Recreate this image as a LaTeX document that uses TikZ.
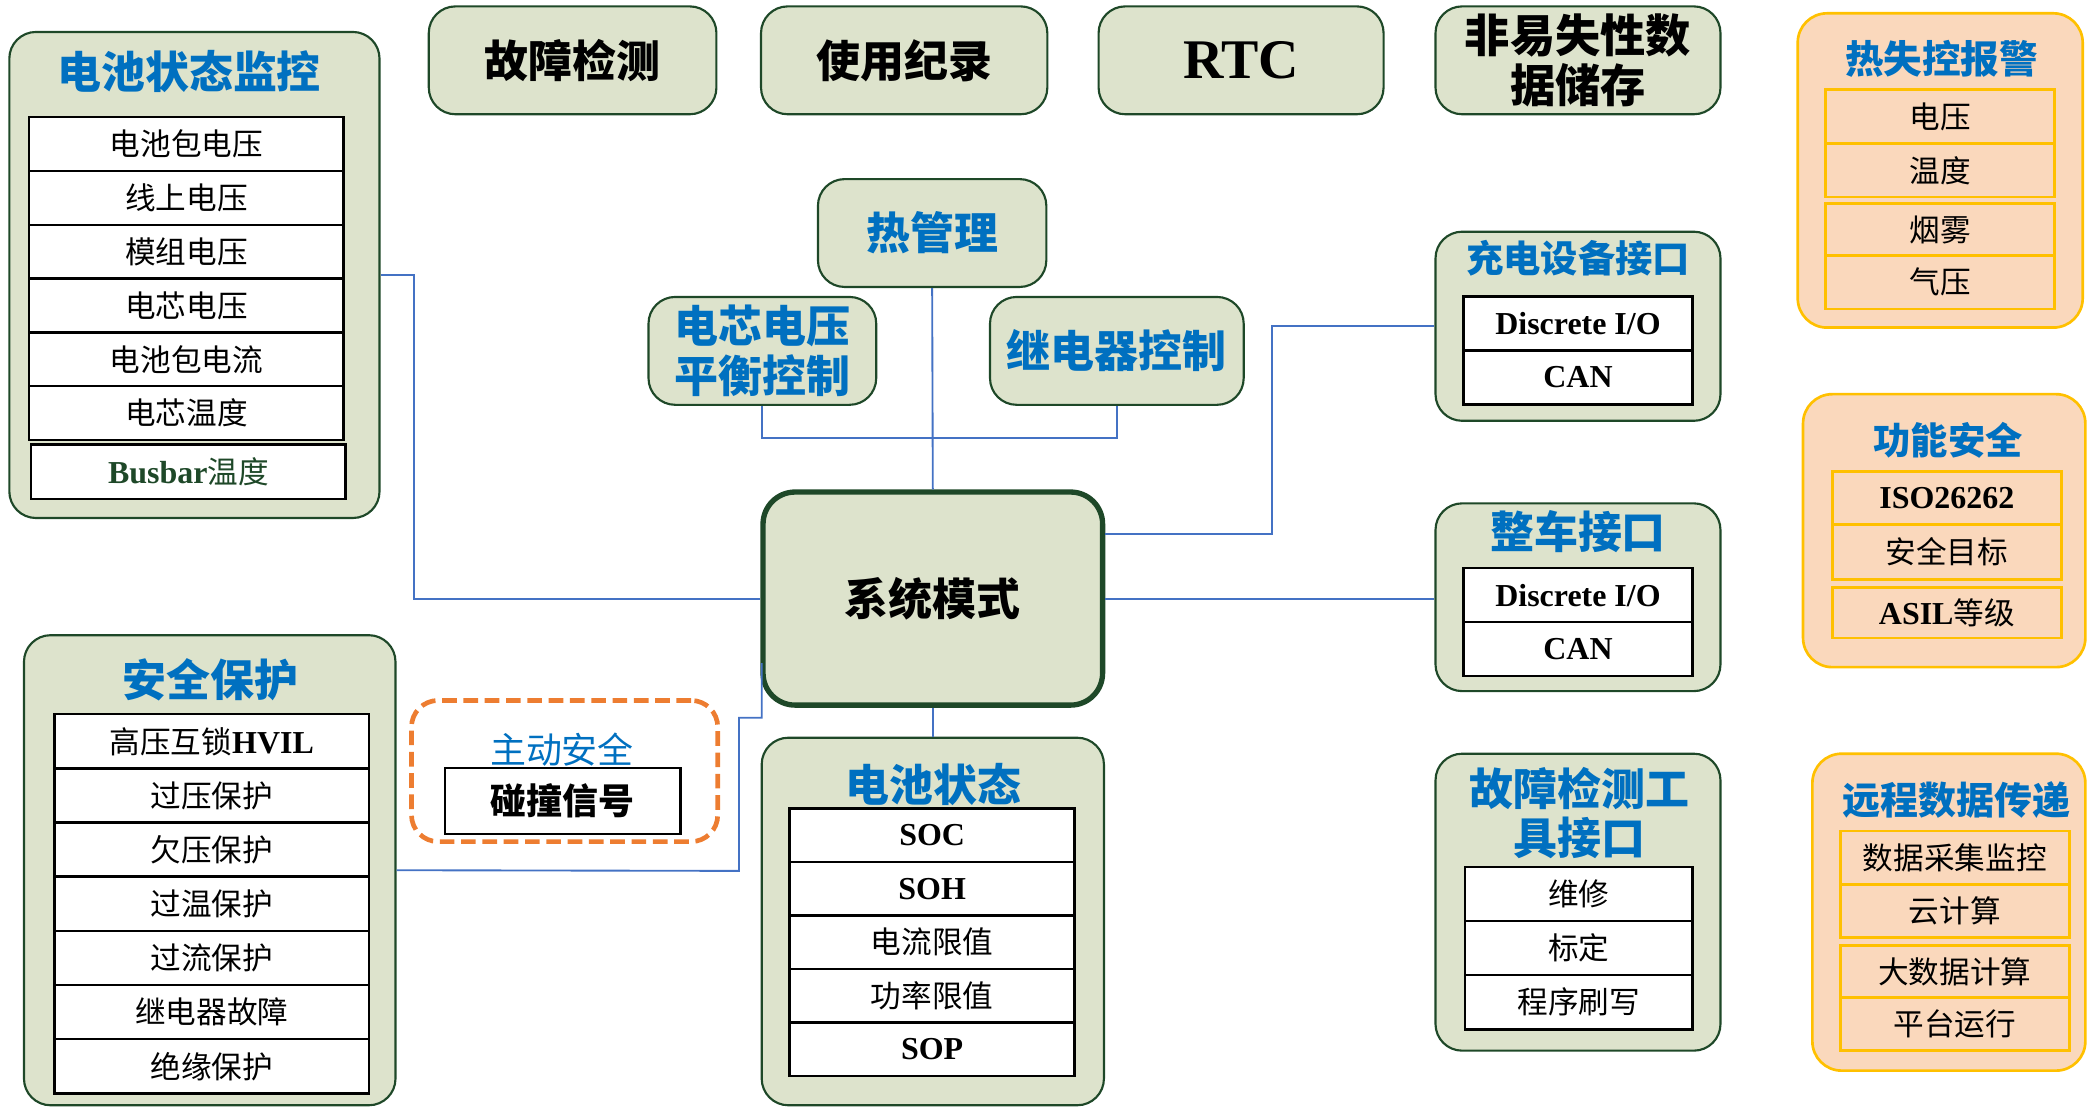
\documentclass[tikz,border=0pt]{standalone}
\usepackage{fontspec}
\setmainfont{Noto Sans CJK SC}
\newfontfamily\tnr{Liberation Serif}
\usetikzlibrary{calc}
\definecolor{grfill}{RGB}{221,227,204}
\definecolor{dkgreen}{RGB}{30,72,40}
\definecolor{orfill}{RGB}{250,216,188}
\definecolor{gold}{RGB}{255,192,0}
\definecolor{tblue}{RGB}{0,112,192}
\definecolor{cblue}{RGB}{68,114,196}
\definecolor{dorange}{RGB}{237,125,49}
\newcommand\ttlf[1]{\fontsize{#1}{#1}\selectfont\bfseries}
\newcommand\rowf{\fontsize{23}{26}\selectfont}
\newcommand\lt[1]{{\tnr\bfseries\fontsize{24}{26}\selectfont #1}}
\begin{document}
\begin{tikzpicture}[x=1pt,y=-1pt,
  sz/.style 2 args={minimum width=#1pt, minimum height=#2pt},
  grp/.style={draw=dkgreen, fill=grfill, line width=1.6pt, rounded corners=20pt, inner sep=0pt},
  ogrp/.style={draw=gold, fill=orfill, line width=2pt, rounded corners=22pt, inner sep=0pt},
  rowbox/.style={draw=black, fill=white, line width=1.8pt, inner sep=0pt, font=\rowf},
  orow/.style={draw=gold, fill=orfill, line width=2pt, inner sep=0pt, font=\rowf},
  ttl/.style={text=tblue, inner sep=0pt, align=center, font=\ttlf{33}},
  btxt/.style={text=black, inner sep=0pt, align=center, font=\ttlf{33}},
  conn/.style={draw=cblue, line width=1.4pt},
]
\useasboundingbox (0,0) rectangle (1568,834);

% ---------- battery monitoring ----------
\node[grp, sz={278}{365}] (bm) at (146,206.5) {};
\node[ttl] (bmt) at (142,54) {电池状态监控};
\node[rowbox, sz={236}{40.4}] (bm1) at (140,108.2) {电池包电压};
\node[rowbox, sz={236}{40.4}] (bm2) at (140,148.6) {线上电压};
\node[rowbox, sz={236}{40.4}] (bm3) at (140,189) {模组电压};
\node[rowbox, sz={236}{40.4}] (bm4) at (140,229.4) {电芯电压};
\node[rowbox, sz={236}{40.4}] (bm5) at (140,269.8) {电池包电流};
\node[rowbox, sz={236}{40.4}] (bm6) at (140,310.2) {电芯温度};
\node[rowbox, sz={236}{41}, text=dkgreen] (bm7) at (141.5,354.2) {\lt{Busbar}温度};

% ---------- safety protection ----------
\node[grp, sz={279}{353}] (sp) at (157.5,653.5) {};
\node[ttl] (spt) at (158,510.7) {安全保护};
\node[rowbox, sz={236}{40.7}] (sp1) at (159,556.7) {高压互锁\lt{HVIL}};
\node[rowbox, sz={236}{40.7}] (sp2) at (159,597.4) {过压保护};
\node[rowbox, sz={236}{40.7}] (sp3) at (159,638) {欠压保护};
\node[rowbox, sz={236}{40.7}] (sp4) at (159,678.7) {过温保护};
\node[rowbox, sz={236}{40.7}] (sp5) at (159,719.4) {过流保护};
\node[rowbox, sz={236}{40.7}] (sp6) at (159,760) {继电器故障};
\node[rowbox, sz={236}{40.7}] (sp7) at (159,800.7) {绝缘保护};

% ---------- active safety ----------
\node[draw=dorange, line width=3.5pt, dash pattern=on 11pt off 5pt, rounded corners=20pt, sz={230}{106}, inner sep=0pt] (as) at (424,579) {};
\node[text=tblue, inner sep=0pt, font=\fontsize{27}{27}\selectfont] (ast) at (422,563) {主动安全};
\node[draw=black, fill=white, line width=1.6pt, inner sep=0pt, sz={177}{49}, font=\fontsize{27}{27}\selectfont\bfseries] (as1) at (422.5,601.5) {碰撞信号};

% ---------- top row ----------
\node[grp, sz={216}{81}, btxt] (f1) at (430,45.3) {故障检测};
\node[grp, sz={215}{81}, btxt] (f2) at (679,45.3) {使用纪录};
\node[grp, sz={214}{81}, btxt, font=\tnr\bfseries\fontsize{42}{42}\selectfont] (f3) at (932,45.3) {RTC};
\node[grp, sz={214}{81}, btxt, font=\ttlf{34}, execute at begin node=\setlength{\baselineskip}{38pt}] (f4) at (1185,45.3) {非易失性数\\据储存};

% ---------- control boxes ----------
\node[grp, sz={171.5}{81}, ttl] (th) at (700,175) {热管理};
\node[grp, sz={171}{81}, ttl, execute at begin node=\setlength{\baselineskip}{37pt}] (cb) at (572.5,263.5) {电芯电压\\平衡控制};
\node[grp, sz={190.5}{81}, ttl] (rc) at (838.7,263.5) {继电器控制};

% ---------- system mode ----------
\node[draw=dkgreen, fill=grfill, line width=4pt, rounded corners=24pt, sz={255}{160}, btxt] (sys) at (700.5,449.5) {系统模式};

% ---------- battery state ----------
\node[grp, sz={257}{276}] (bs) at (700.5,692) {};
\node[ttl] (bst) at (701,589) {电池状态};
\node[rowbox, sz={214}{40.2}] (bs1) at (700,627.1) {\lt{SOC}};
\node[rowbox, sz={214}{40.2}] (bs2) at (700,667.3) {\lt{SOH}};
\node[rowbox, sz={214}{40.2}] (bs3) at (700,707.5) {电流限值};
\node[rowbox, sz={214}{40.2}] (bs4) at (700,747.7) {功率限值};
\node[rowbox, sz={214}{40.2}] (bs5) at (700,787.9) {\lt{SOP}};

% ---------- charging interface ----------
\node[grp, sz={214}{142}] (ch) at (1185,245) {};
\node[ttl, font=\ttlf{28}] (cht) at (1185,194) {充电设备接口};
\node[rowbox, sz={172}{40.5}] (ch1) at (1185,243) {\lt{Discrete I/O}};
\node[rowbox, sz={172}{40.5}] (ch2) at (1185,283.5) {\lt{CAN}};

% ---------- vehicle interface ----------
\node[grp, sz={214}{141}] (vh) at (1185,448.5) {};
\node[ttl] (vht) at (1185,399) {整车接口};
\node[rowbox, sz={172}{40.5}] (vh1) at (1185,447) {\lt{Discrete I/O}};
\node[rowbox, sz={172}{40.5}] (vh2) at (1185,487.5) {\lt{CAN}};

% ---------- diagnostic tool interface ----------
\node[grp, sz={214}{223}] (fd) at (1185,677.5) {};
\node[ttl, execute at begin node=\setlength{\baselineskip}{37pt}] (fdt) at (1186,610.5) {故障检测工\\具接口};
\node[rowbox, sz={171}{40.7}] (fd1) at (1185.5,671.3) {维修};
\node[rowbox, sz={171}{40.7}] (fd2) at (1185.5,712) {标定};
\node[rowbox, sz={171}{40.7}] (fd3) at (1185.5,752.7) {程序刷写};

% ---------- thermal runaway alarm ----------
\node[ogrp, sz={214}{236}] (ta) at (1457,128) {};
\node[ttl, font=\ttlf{29}] (tat) at (1458,44) {热失控报警};
\node[orow, sz={172}{41}] (ta1) at (1457,87.5) {电压};
\node[orow, sz={172}{40}] (ta2) at (1457,128) {温度};
\node[orow, sz={172}{39}] (ta3) at (1457,172.5) {烟雾};
\node[orow, sz={172}{40}] (ta4) at (1457,212) {气压};

% ---------- functional safety ----------
\node[ogrp, sz={212}{205}] (fs) at (1460,398.5) {};
\node[ttl, font=\ttlf{28}] (fst) at (1463,331) {功能安全};
\node[orow, sz={172}{40}] (fs1) at (1462,374) {\lt{ISO26262}};
\node[orow, sz={172}{41}] (fs2) at (1462,414.5) {安全目标};
\node[orow, sz={172}{38}] (fs3) at (1462,460) {\lt{ASIL}等级};

% ---------- remote data ----------
\node[ogrp, sz={205}{238}] (rd) at (1463.5,685) {};
\node[ttl, font=\ttlf{28.5}] (rdt) at (1469,601) {远程数据传递};
\node[orow, sz={172}{40}] (rd1) at (1468,644) {数据采集监控};
\node[orow, sz={172}{40}] (rd2) at (1468,684) {云计算};
\node[orow, sz={172}{39}] (rd3) at (1468,729.5) {大数据计算};
\node[orow, sz={172}{40}] (rd4) at (1468,769) {平台运行};

% ---------- connectors ----------
\coordinate (k1) at (955.5,401);
\coordinate (k2) at (555,654);
\coordinate (k3) at (572,539);
\coordinate (k4) at (572,498);
\draw[conn] (bm.east) -- ++(25,0) |- (sys.west);
\draw[conn] (th.south) -- (sys.north);
\draw[conn] (cb.south) -- ++(0,24) -| (rc.south);
\draw[conn] (sys.east) -- (sys.east -| vh.west);
\draw[conn] (sys.east |- k1) -- (k1) |- (ch.west);
\draw[conn] (sys.south) -- (bs.north);
\draw[conn] (sp.east) -- (k2) |- (k3) -- (k4);
\end{tikzpicture}
\end{document}
